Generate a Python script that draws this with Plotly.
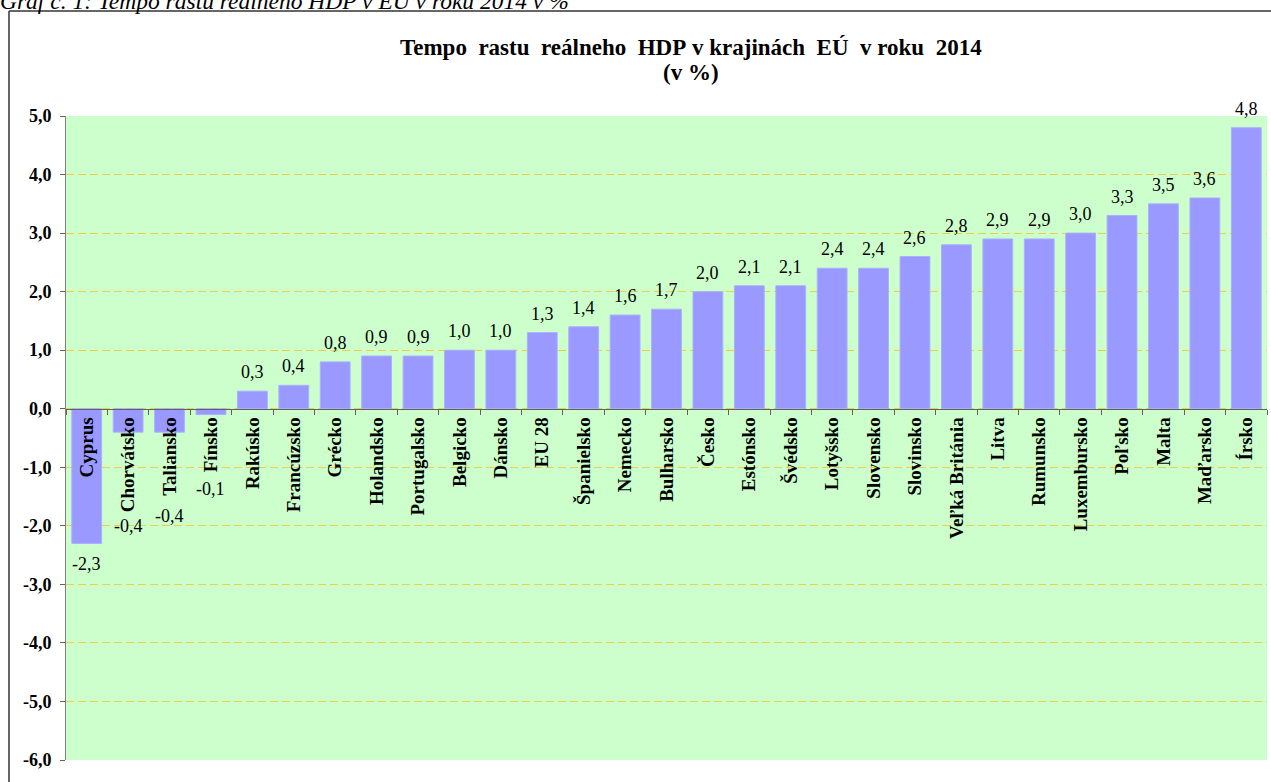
import plotly.graph_objects as go

countries = ["Cyprus", "Chorvátsko", "Taliansko", "Fínsko", "Rakúsko", "Francúzsko", "Grécko",
             "Holandsko", "Portugalsko", "Belgicko", "Dánsko", "EU 28", "Španielsko", "Nemecko",
             "Bulharsko", "Česko", "Estónsko", "Švédsko", "Lotyšsko", "Slovensko", "Slovinsko",
             "Veľká Británia", "Litva", "Rumunsko", "Luxembursko", "Poľsko", "Malta", "Maďarsko", "Írsko"]
growth = [-2.3, -0.4, -0.4, -0.1, 0.3, 0.4, 0.8, 0.9, 0.9, 1.0, 1.0, 1.3, 1.4, 1.6, 1.7, 2.0,
          2.1, 2.1, 2.4, 2.4, 2.6, 2.8, 2.9, 2.9, 3.0, 3.3, 3.5, 3.6, 4.8]
y_ticks = [5, 4, 3, 2, 1, 0, -1, -2, -3, -4, -5, -6]

W, H = 1271, 782
ML, MR, MT, MB = 66, 4, 116, 22
YMIN, YMAX = -6, 5
PW = W - ML - MR
PH = H - MT - MB
PPU = PH / (YMAX - YMIN)

SERIF = "Liberation Serif, Times New Roman, serif"

fig = go.Figure()
fig.add_trace(go.Bar(
    x=countries, y=growth, width=0.72,
    marker=dict(color="#9999FF", line=dict(color="#AAB0FF", width=1)),
    hoverinfo="x+y",
))

def fmt(v):
    return f"{v:.1f}".replace(".", ",")

def px_to_paper_x(px):
    return (px - ML) / PW

def px_to_paper_y(py):
    return (H - MB - py) / PH

annotations = []
for name, v in zip(countries, growth):
    if v >= 0:
        annotations.append(dict(x=name, y=v, xref="x", yref="y", text=fmt(v), showarrow=False,
                                yanchor="middle", yshift=19,
                                font=dict(family=SERIF, size=18, color="black")))
    else:
        label_px = 9 + len(name) * 9.3 + 15
        bar_px = abs(v) * PPU + 21
        annotations.append(dict(x=name, y=0, xref="x", yref="y", text=fmt(v), showarrow=False,
                                yanchor="middle", yshift=-max(label_px, bar_px),
                                font=dict(family=SERIF, size=18, color="black")))

# caption cut at the top
annotations.append(dict(
    xref="paper", yref="paper", x=px_to_paper_x(-2), y=px_to_paper_y(16),
    xanchor="left", yanchor="bottom", showarrow=False,
    text="<i>Graf č. 1: Tempo rastu reálneho HDP v EÚ v roku 2014 v %</i>",
    font=dict(family=SERIF, size=23.5, color="black")))

NB = "\u00a0"
title_line1 = f"Tempo{NB}{NB}rastu{NB}{NB}reálneho{NB}{NB}HDP{NB}v{NB}krajinách{NB}{NB}EÚ{NB}{NB}v{NB}roku{NB}{NB}2014"
title_line2 = f"(v{NB}%)"
annotations.append(dict(
    xref="paper", yref="paper", x=px_to_paper_x(691), y=px_to_paper_y(48),
    xanchor="center", yanchor="middle", showarrow=False, text=title_line1,
    font=dict(family=SERIF, size=23, color="black", weight="bold")))
annotations.append(dict(
    xref="paper", yref="paper", x=px_to_paper_x(691), y=px_to_paper_y(73),
    xanchor="center", yanchor="middle", showarrow=False, text=title_line2,
    font=dict(family=SERIF, size=23, color="black", weight="bold")))

shapes = [
    dict(type="line", xref="paper", yref="paper",
         x0=px_to_paper_x(9), x1=px_to_paper_x(W + 10),
         y0=px_to_paper_y(11), y1=px_to_paper_y(11),
         line=dict(color="#333333", width=1.5)),
    dict(type="line", xref="paper", yref="paper",
         x0=px_to_paper_x(9), x1=px_to_paper_x(9),
         y0=px_to_paper_y(11), y1=px_to_paper_y(H + 10),
         line=dict(color="#333333", width=1.5)),
]

fig.update_layout(
    width=W, height=H,
    margin=dict(l=ML, r=MR, t=MT, b=MB, pad=0),
    paper_bgcolor="white", plot_bgcolor="#CCFFCC",
    showlegend=False,
    separators=", ",
    xaxis=dict(
        type="category", anchor="free", position=(0 - YMIN) / (YMAX - YMIN),
        showline=True, linecolor="#606060", linewidth=1,
        ticks="outside", tickson="boundaries", ticklen=5, tickcolor="#606060",
        tickangle=-90, showgrid=False,
        tickfont=dict(family=SERIF, size=19, color="black", weight="bold"),
        range=[-0.5, len(countries) - 0.5], fixedrange=True,
    ),
    yaxis=dict(
        range=[YMIN, YMAX], tickvals=y_ticks,
        ticktext=[f"{t:.1f}".replace(".", ",") for t in y_ticks],
        showline=True, linecolor="#808080", linewidth=1,
        ticks="outside", ticklen=5, tickcolor="#606060", ticklabelstandoff=5,
        showgrid=True, gridcolor="#F0D040", gridwidth=1, griddash="8px,4px",
        zeroline=False,
        tickfont=dict(family=SERIF, size=18, color="black", weight="bold"),
        fixedrange=True,
    ),
    annotations=annotations,
    shapes=shapes,
    bargap=0.28,
)

fig.write_html("out.html", config={"displayModeBar": False},
               post_script="document.body.style.margin='0';document.body.style.overflow='hidden';")
